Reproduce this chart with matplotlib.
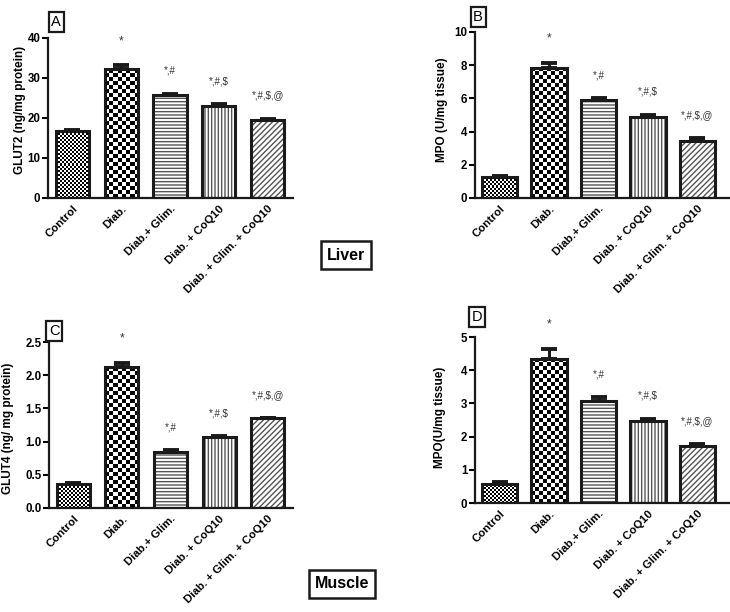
import numpy as np
import matplotlib
matplotlib.use("Agg")
import matplotlib.pyplot as plt

plt.rcParams['font.family'] = ['Liberation Sans', 'DejaVu Sans']
plt.rcParams['hatch.linewidth'] = 1.0

categories = ["Control", "Diab.", "Diab.+ Glim.", "Diab. + CoQ10", "Diab. + Glim. + CoQ10"]
sig_labels = ["", "*", "*,#", "*,#,$", "*,#,$,@"]

glut2_mean = [16.7, 32.2, 25.7, 23.0, 19.6]
glut2_err = [0.3, 1.0, 0.4, 0.4, 0.25]

mpo_liver_mean = [1.25, 7.85, 5.9, 4.9, 3.45]
mpo_liver_err = [0.1, 0.3, 0.1, 0.1, 0.15]

glut4_mean = [0.36, 2.12, 0.85, 1.07, 1.35]
glut4_err = [0.01, 0.07, 0.02, 0.01, 0.01]

mpo_muscle_mean = [0.58, 4.35, 3.08, 2.47, 1.72]
mpo_muscle_err = [0.05, 0.30, 0.10, 0.06, 0.06]

W, H = 730, 612
fig = plt.figure(figsize=(W / 100, H / 100), dpi=100)


def px_axes(l, r, t, b):
    return fig.add_axes([l / W, 1 - b / H, (r - l) / W, (b - t) / H])


def checker(ax, bar, cell_px):
    x0, y0 = bar.get_x(), bar.get_y()
    w, h = bar.get_width(), bar.get_height()
    p0 = ax.transData.transform((x0, y0))
    p1 = ax.transData.transform((x0 + w, y0 + h))
    nc = max(1, int(round(abs(p1[0] - p0[0]) / cell_px)))
    nr = max(1, int(round(abs(p1[1] - p0[1]) / cell_px)))
    ii, jj = np.indices((nr, nc))
    img = ((ii + jj) % 2).astype(float)
    im = ax.imshow(img, cmap='gray', vmin=0, vmax=1, extent=(x0, x0 + w, y0, y0 + h),
                   origin='lower', interpolation='nearest', aspect='auto', zorder=2)
    im.set_clip_path(bar)


def panel(box, means, errs, ylim, yticks, ytick_fmt, xlim, width, ylabel, ylabel_pos,
          letter, letter_pos, label_fs=8.5):
    ax = px_axes(*box)
    x = np.arange(len(categories))
    ax.set_xlim(*xlim)
    ax.set_ylim(*ylim)
    bars = ax.bar(x, means, width=width, color='white', edgecolor='none', zorder=1)
    hatches = [None, None, '-----', '|||||', '//////']
    for b, hp in zip(bars, hatches):
        if hp:
            ax.bar(b.get_x() + b.get_width() / 2, b.get_height(), width=width, color='white',
                   edgecolor='#555555', linewidth=0, hatch=hp, zorder=2)
    checker(ax, bars[0], 2.0)
    checker(ax, bars[1], 4.0)
    ax.bar(x, means, width=width, color='none', edgecolor='#1a1a1a', linewidth=2.2, zorder=3)
    ax.errorbar(x, means, yerr=[np.zeros(len(errs)), errs], fmt='none', ecolor='#1a1a1a',
                elinewidth=2.2, capsize=5.5, capthick=2.8, zorder=4)
    for xi, m, e, s in zip(x, means, errs, sig_labels):
        if s:
            ax.annotate(s, (xi, m + e), xytext=(0, 13), textcoords='offset points',
                        ha='center', va='bottom', fontsize=7 if s != "*" else 8.5, color='#333333')
    ax.set_yticks(yticks)
    ax.set_yticklabels([ytick_fmt.format(v) for v in yticks], fontweight='bold', fontsize=8.3)
    ax.set_xticks(x)
    ax.set_xticklabels(categories, rotation=45, ha='right', rotation_mode='anchor',
                       fontweight='bold', fontsize=8.2)
    ax.tick_params(axis='x', length=0, pad=4)
    ax.tick_params(axis='y', length=4, width=1.5, pad=1.5, direction='out')
    for sp in ['top', 'right']:
        ax.spines[sp].set_visible(False)
    for sp in ['left', 'bottom']:
        ax.spines[sp].set_linewidth(1.6)
        ax.spines[sp].set_color('#1a1a1a')
    fig.text(ylabel_pos[0] / W, 1 - ylabel_pos[1] / H, ylabel, rotation=90, ha='center', va='center',
             fontweight='bold', fontsize=label_fs)
    fig.text(letter_pos[0] / W, 1 - letter_pos[1] / H, letter, ha='center', va='center', fontsize=10.5,
             bbox=dict(boxstyle='square,pad=0.18', facecolor='white', edgecolor='#1a1a1a', linewidth=1.6))
    return ax


panel((48, 293, 38, 198), glut2_mean, glut2_err, (0, 40), [0, 10, 20, 30, 40], "{:g}",
      (-0.5, 4.52), 0.68, "GLUT2 (ng/mg protein)", (20, 110), "A", (56, 22))
panel((475, 729, 32, 198), mpo_liver_mean, mpo_liver_err, (0, 10), [0, 2, 4, 6, 8, 10], "{:g}",
      (-0.5, 4.64), 0.72, "MPO (U/mg tissue)", (442, 110), "B", (478, 17))
panel((49, 293, 342, 508), glut4_mean, glut4_err, (0, 2.5), [0, 0.5, 1.0, 1.5, 2.0, 2.5], "{:.1f}",
      (-0.5, 4.52), 0.68, "GLUT4 (ng/ mg protein)", (8, 428), "C", (54, 331))
panel((475, 729, 337, 503), mpo_muscle_mean, mpo_muscle_err, (0, 5), [0, 1, 2, 3, 4, 5], "{:g}",
      (-0.5, 4.64), 0.72, "MPO(U/mg tissue)", (440, 417), "D", (477, 317))

for txt, pos in [("Liver", (346, 255)), ("Muscle", (342, 584))]:
    fig.text(pos[0] / W, 1 - pos[1] / H, txt, ha='center', va='center', fontsize=11.5, fontweight='bold',
             bbox=dict(boxstyle='square,pad=0.38', facecolor='white', edgecolor='#1a1a1a', linewidth=1.8))

fig.savefig("out.png", dpi=100)
